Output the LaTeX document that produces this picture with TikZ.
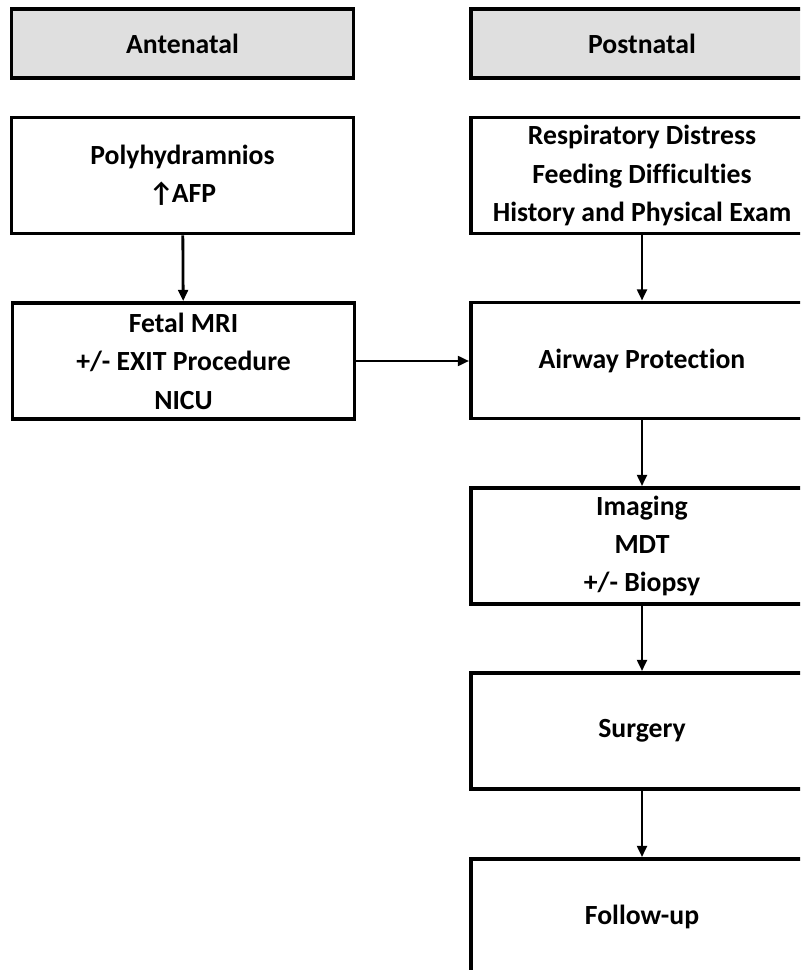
\documentclass[tikz,border=0pt]{standalone}
\usepackage{fontspec}
\setmainfont[Ligatures=NoCommon]{Carlito}
\usetikzlibrary{arrows.meta,positioning}
\newcommand{\boxfont}{\fontsize{19.7}{27.3}\selectfont\bfseries}

\begin{document}
\begin{tikzpicture}[x=0.025cm,y=-0.025cm,
  box/.style={draw, line width=2.6pt, minimum width=8.55cm, minimum height=2.9cm,
    inner sep=2pt, align=center, font=\boxfont},
  head/.style={box, fill=gray!25, minimum height=1.72cm},
  arr/.style={line width=2pt, -{Triangle[length=0.28cm,width=0.24cm]}}]
 % frame
 \useasboundingbox (0,0) rectangle (800,970);
 \clip (0,0) rectangle (800,970);

 % headers
 \node[head] (ante) at (182.5,43.5) {Antenatal};
 \node[head] (post) at (642,43.5) {Postnatal};

 % antenatal column
 \node[box] (poly) at (182.5,175.5) {Polyhydramnios\\ ↑\kern-1.5pt AFP};
 \node[box] (fetal) at (183.5,361) {Fetal MRI\\ +/- EXIT Procedure\\ NICU};

 % postnatal column
 \node[box] (resp) at (642,175.5) {Respiratory Distress\\ Feeding Difficulties\\ History and Physical Exam};
 \node[box] (airway) at (642,360.5) {Airway Protection};
 \node[box] (imag) at (642,546) {Imaging\\ MDT\\ +/- Biopsy};
 \node[box] (surg) at (642,731) {Surgery};
 \node[box] (follow) at (642,917) {Follow-up};

 % connectors
 \draw[arr] (poly) -- (fetal);
 \draw[arr] (fetal.east) -- (fetal.east -| airway.west);
 \draw[arr] (resp) -- (airway);
 \draw[arr] (airway) -- (imag);
 \draw[arr] (imag) -- (surg);
 \draw[arr] (surg) -- (follow);
\end{tikzpicture}
\end{document}
